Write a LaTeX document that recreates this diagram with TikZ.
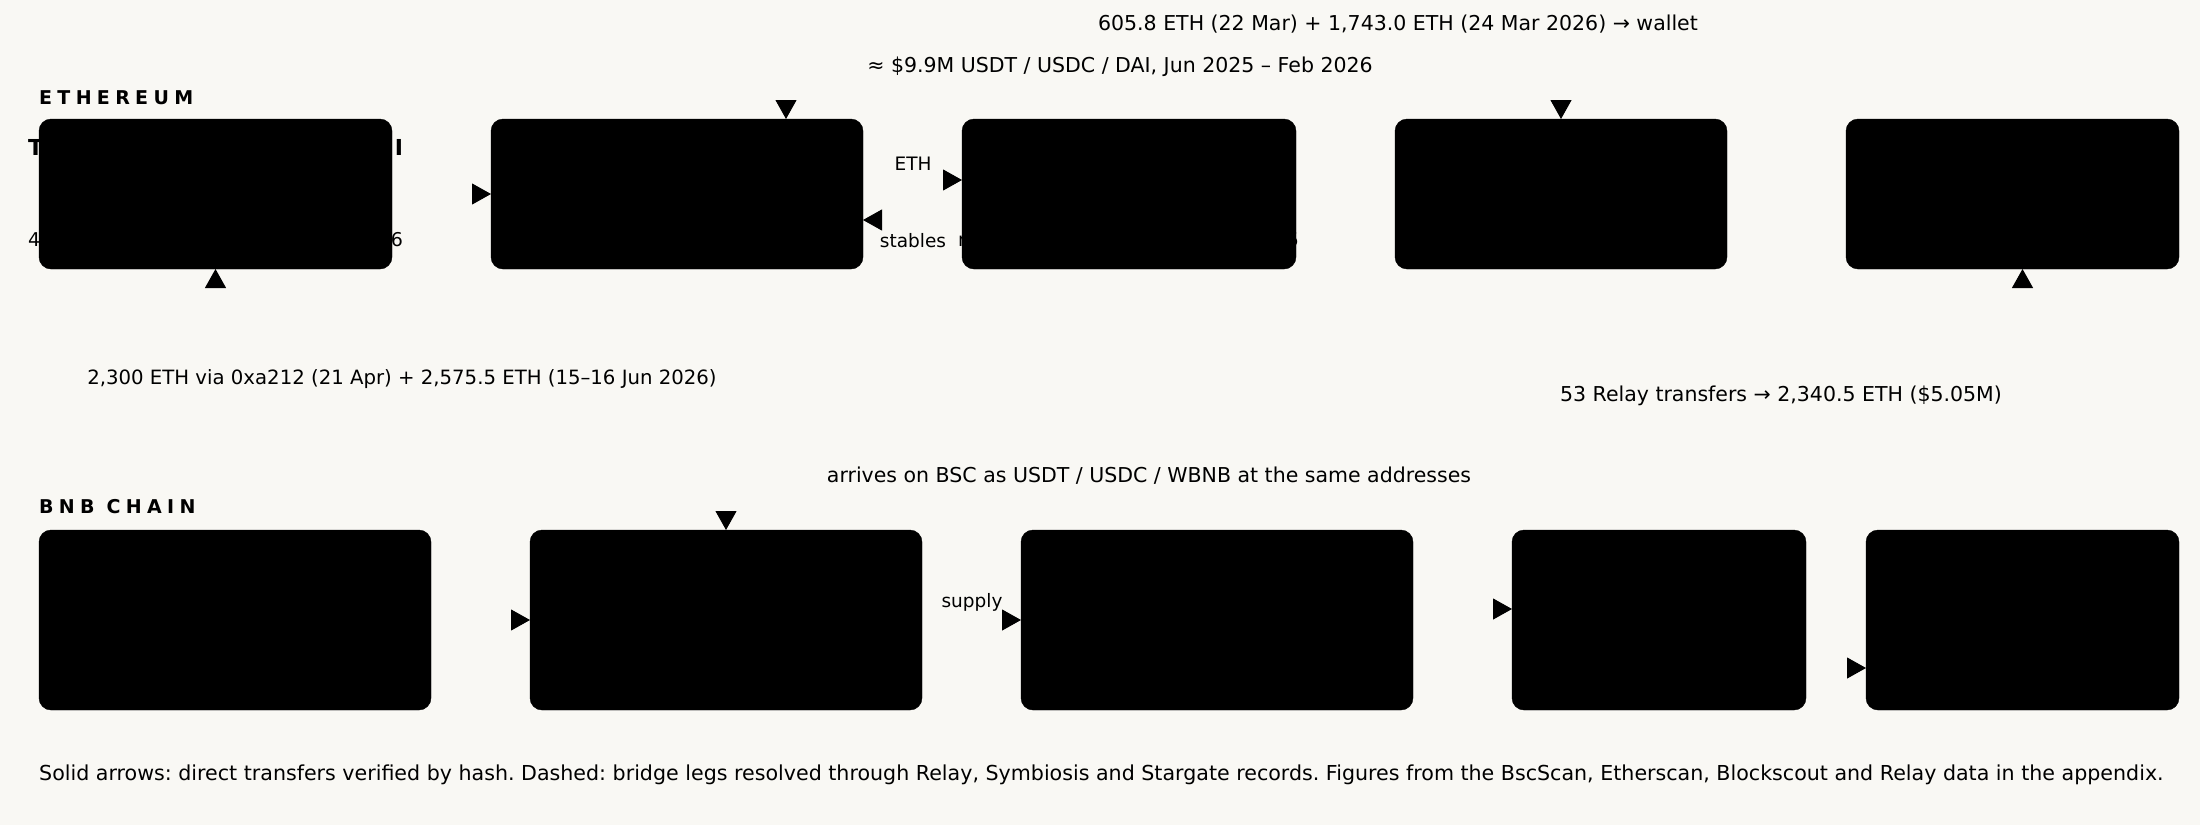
\documentclass[tikz,border=0pt]{standalone}
\usepackage{fontspec}
\setmainfont{DejaVu Sans}
\usetikzlibrary{arrows.meta}
\definecolor{paper}{HTML}{F9F8F4}
\frenchspacing

\tikzset{
    ethbox/.style={draw=black,fill=black,rounded corners=12pt,minimum height=150pt,inner sep=0pt,outer sep=0pt},
    bnbbox/.style={ethbox,minimum height=180pt},
    chain/.style={anchor=west,inner sep=0pt,font=\bfseries\fontsize{19}{23}\selectfont\addfontfeature{LetterSpace=28}},
    note/.style={inner sep=0pt,font=\fontsize{20.5}{25}\selectfont},
    tag/.style={inner sep=0pt,font=\fontsize{18.5}{22}\selectfont},
    frag/.style={inner sep=0pt,font=\fontsize{19}{23}\selectfont},
    flow/.style={draw=paper,line width=1pt,shorten <=1pt,-{Triangle[length=19pt,width=21pt,black,fill=black]}},
    bridge/.style={flow,dashed}
}

\begin{document}
\begin{tikzpicture}[x=1pt,y=-1pt]
            \fill[paper] (0,0) rectangle (2200,825);
            \useasboundingbox (0,0) rectangle (2200,825);

            % two chains, one row of boxes each
            \foreach \n/\x/\w in {eth1/215.5/353,eth2/677/372,eth3/1129/334,eth4/1561/332,eth5/2012.5/333}
                \node[ethbox,minimum width=\w pt] (\n) at (\x,194) {};
            \foreach \n/\x/\w in {bnb1/235/392,bnb2/726/392,bnb3/1217/392,bnb4/1659/294,bnb5/2022.5/313}
                \node[bnbbox,minimum width=\w pt] (\n) at (\x,620) {};

            % text running out of the boxes
            \node[frag,font=\bfseries\fontsize{22}{26}\selectfont] (eth1name) at (215.5,147) {\makebox[375pt]{T\hfill I}};
            \node[frag] (eth1sum) at (215.5,240) {\makebox[375pt]{4\hfill 6}};
            \node[frag] (eth3sum) at (1128.5,240) {\makebox[341pt]{n\hfill 5}};

            % transfers
            \draw[bridge] (eth1.south |- bnb1.north) -- (eth1.south);
            \draw[flow] (eth1) -- (eth2);
            \draw[flow] ([yshift=14pt]eth2.east) -- ([yshift=14pt]eth3.west);
            \draw[flow] ([yshift=-26pt]eth3.west) -- ([yshift=-26pt]eth2.east);
            \draw[flow] ([xshift=-107pt]eth4.north) to[out=90,in=90] ([xshift=109pt]eth2.north);
            \draw[flow] ([xshift=108pt]eth3.north) to[out=90,in=90] (eth4.north);
            \draw[bridge] (bnb4.north) to[out=90,in=-90] ([xshift=10pt]eth5.south);
            \draw[bridge] (eth3.south) to[out=-90,in=90] (bnb2.north);
            \draw[flow] (bnb1) -- (bnb2);
            \draw[flow] (bnb2) -- (bnb3);
            \draw[flow] ([yshift=11pt]bnb3.east) -- ([yshift=11pt]bnb4.west);
            \draw[flow] ([yshift=-48pt]bnb4.east) -- ([yshift=-48pt]bnb5.west);

            \node[chain] (ethchain) at (39,98) {ETHEREUM};
            \node[chain] (bnbchain) at (39,507) {BNB CHAIN};

            \node[note] (wallet) at (1398,24) {605.8 ETH (22 Mar) + 1,743.0 ETH (24 Mar 2026) → wallet};
            \node[note] (stables) at (1120,67) {≈ \$9.9M USDT / USDC / DAI, Jun 2025 – Feb 2026};
            \node[tag] (ethtag) at (913,164) {ETH};
            \node[tag] (stabletag) at (913,241) {stables};
            \node[note,font=\fontsize{19.7}{24}\selectfont] (backeth) at (402,379) {2,300 ETH via 0xa212 (21 Apr) + 2,575.5 ETH (15–16 Jun 2026)};
            \node[note] (relay) at (1781,396) {53 Relay transfers → 2,340.5 ETH (\$5.05M)};
            \node[note] (arrives) at (1149,476) {arrives on BSC as USDT / USDC / WBNB at the same addresses};
            \node[tag] (supplytag) at (972,602) {supply};

            \node[note,anchor=west,font=\fontsize{20.6}{25}\selectfont] (legend) at (39,775) {Solid arrows: direct transfers verified by hash. Dashed: bridge legs resolved through Relay, Symbiosis and Stargate records. Figures from the BscScan, Etherscan, Blockscout and Relay data in the appendix.};
\end{tikzpicture}
\end{document}
